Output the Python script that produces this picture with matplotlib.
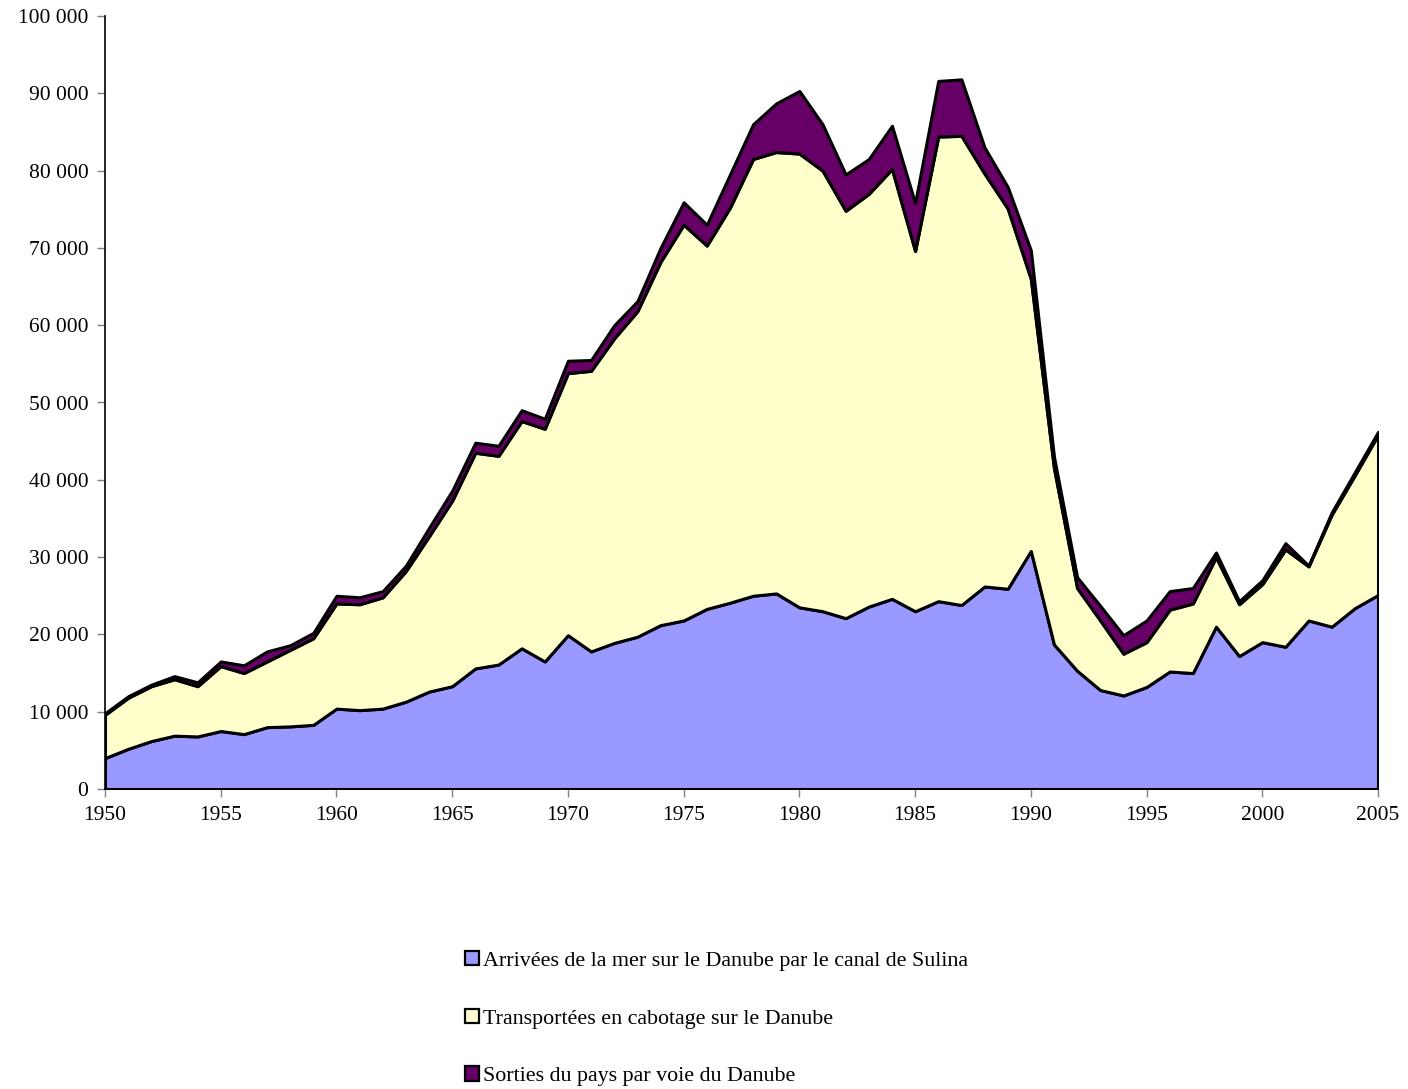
import numpy as np
import matplotlib
matplotlib.use("Agg")
import matplotlib.pyplot as plt
from matplotlib.ticker import FuncFormatter, MultipleLocator
from matplotlib.patches import Patch

years = list(range(1950, 2006))

# Arrivées de la mer sur le Danube par le canal de Sulina
arrivees = [4000, 5200, 6200, 6900, 6800, 7500, 7100, 8000, 8100, 8300,
            10400, 10200, 10400, 11300, 12600, 13300, 15600, 16100, 18200, 16500,
            19900, 17800, 18900, 19700, 21200, 21800, 23300, 24100, 25000, 25300,
            23500, 23000, 22100, 23600, 24600, 23000, 24300, 23800, 26200, 25900,
            30800, 18700, 15300, 12800, 12100, 13200, 15200, 15000, 21000, 17200,
            19000, 18400, 21800, 21000, 23400, 25100]

# Transportées en cabotage sur le Danube
cabotage = [5600, 6600, 7100, 7300, 6500, 8400, 7900, 8500, 9900, 11200,
            13600, 13700, 14400, 16900, 20100, 24000, 27900, 27000, 29400, 30100,
            33900, 36300, 39400, 42100, 47000, 51200, 47000, 51100, 56500, 57100,
            58700, 57000, 52700, 53400, 55600, 46600, 60100, 60700, 53400, 49200,
            35200, 22800, 10700, 9000, 5400, 5800, 8000, 9000, 9000, 6700,
            7500, 12600, 7000, 14500, 17200, 20700]

# Sorties du pays par voie du Danube
sorties = [200, 200, 200, 400, 500, 600, 1000, 1300, 600, 700,
           1000, 900, 800, 700, 1100, 1300, 1300, 1300, 1400, 1300,
           1600, 1400, 1700, 1300, 1800, 2900, 2700, 4300, 4500, 6300,
           8100, 6000, 4700, 4500, 5600, 6200, 7200, 7300, 3400, 2800,
           3700, 1500, 1400, 1900, 2400, 2800, 2400, 2000, 600, 400,
           500, 800, 100, 300, 400, 400]

labels = ["Arrivées de la mer sur le Danube par le canal de Sulina",
          "Transportées en cabotage sur le Danube",
          "Sorties du pays par voie du Danube"]
colors = ["#9999FF", "#FFFFCC", "#660066"]

plt.rcParams.update({
    "font.family": ["Liberation Serif", "DejaVu Serif"],
    "font.size": 15.5,
})

fig = plt.figure(figsize=(14.08, 10.89), dpi=100)
ax = fig.add_axes([105 / 1408, 1 - 789 / 1089, 1273 / 1408, 773 / 1089])

ax.stackplot(years, arrivees, cabotage, sorties, colors=colors,
             edgecolor="black", linewidth=2.2)

ax.set_xlim(1950, 2005)
ax.set_ylim(0, 100000)
ax.xaxis.set_major_locator(MultipleLocator(5))
ax.yaxis.set_major_locator(MultipleLocator(10000))
ax.yaxis.set_major_formatter(
    FuncFormatter(lambda v, _: f"{int(v):,}".replace(",", " ")))

for s in ("top", "right"):
    ax.spines[s].set_visible(False)
for s in ("left", "bottom"):
    ax.spines[s].set_color("black")
    ax.spines[s].set_linewidth(1.2)
ax.tick_params(direction="out", length=6, width=1, color="#808080",
               labelsize=15.5)
ax.tick_params(axis="x", pad=6)
ax.tick_params(axis="y", pad=6)

handles = [Patch(facecolor=c, edgecolor="black", linewidth=1.6) for c in colors]
fig.legend(handles, labels, loc="upper left", frameon=False,
           bbox_to_anchor=(456 / 1408, 1 - 942 / 1089), fontsize=15.8,
           handlelength=0.65, handleheight=0.65, handletextpad=0.2,
           labelspacing=1.72, borderaxespad=0)

fig.savefig("out.png", dpi=100)
